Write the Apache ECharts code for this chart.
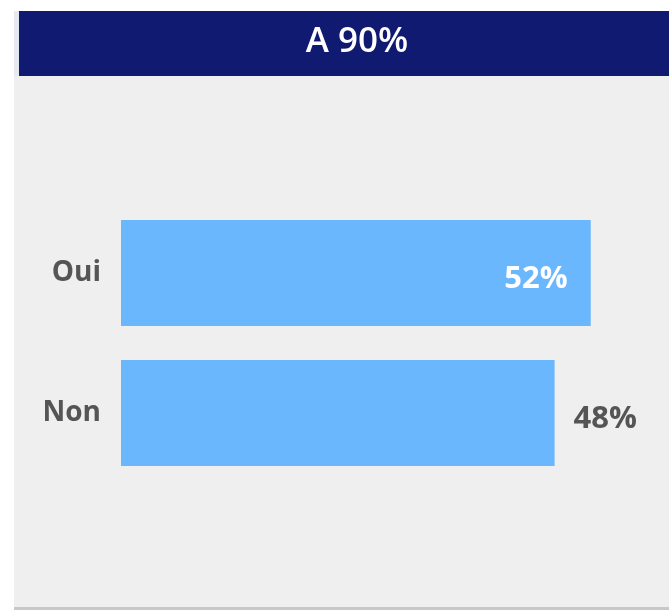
<!DOCTYPE html>
<html>
<head>
<meta charset="utf-8">
<title>A 90%</title>
<script src="https://cdn.jsdelivr.net/npm/echarts@6/dist/echarts.min.js"></script>
</head>
<body style="margin:0;">
<div id="main" style="width:669px;height:612px;"></div>
<script type="text/javascript">
// categories and values (percent)
var categories = ['Oui', 'Non'];
var values = [52, 48];
var titleText = 'A 90%';

var chart = echarts.init(document.getElementById('main'));
var option = {
    backgroundColor: '#ffffff',
    animation: false,
    graphic: [
        // gray panel
        { type: 'rect', shape: { x: 14, y: 76, width: 655, height: 533 }, style: { fill: '#efefef' }, z: -10 },
        { type: 'rect', shape: { x: 14, y: 607, width: 655, height: 3 }, style: { fill: '#c8c8c8' }, z: -10 },
        // header band
        { type: 'rect', shape: { x: 14, y: 11, width: 655, height: 65 }, style: { fill: '#0f1a70' }, z: -9 },
        { type: 'rect', shape: { x: 14, y: 11, width: 5, height: 65 }, style: { fill: '#e6e8f2' }, z: -8 }
    ],
    title: {
        text: titleText,
        left: 352,
        top: 20,
        textAlign: 'center',
        textStyle: {
            color: '#ffffff',
            fontSize: 35,
            fontWeight: 600,
            fontFamily: 'Open Sans'
        }
    },
    grid: {
        left: 121,
        top: 203,
        width: 542,
        height: 280
    },
    xAxis: {
        type: 'value',
        min: 0,
        max: 60,
        show: false
    },
    yAxis: {
        type: 'category',
        inverse: true,
        data: categories,
        axisLine: { show: false },
        axisTick: { show: false },
        axisLabel: {
            margin: 20,
            padding: [10, 0, 0, 0],
            color: '#555555',
            fontSize: 28,
            fontWeight: 'bold',
            fontFamily: 'Open Sans'
        }
    },
    series: [{
        type: 'bar',
        data: [
            { value: values[0], label: { position: 'insideRight', color: '#ffffff', offset: [-18, 6] } },
            { value: values[1], label: { position: 'right', color: '#555555', distance: 19, offset: [0, 6] } }
        ],
        barWidth: 106,
        itemStyle: { color: '#6bb7fd' },
        label: {
            show: true,
            formatter: '{c}%',
            fontSize: 31,
            fontWeight: 'bold',
            fontFamily: 'Open Sans'
        }
    }]
};
chart.setOption(option);
</script>
</body>
</html>
